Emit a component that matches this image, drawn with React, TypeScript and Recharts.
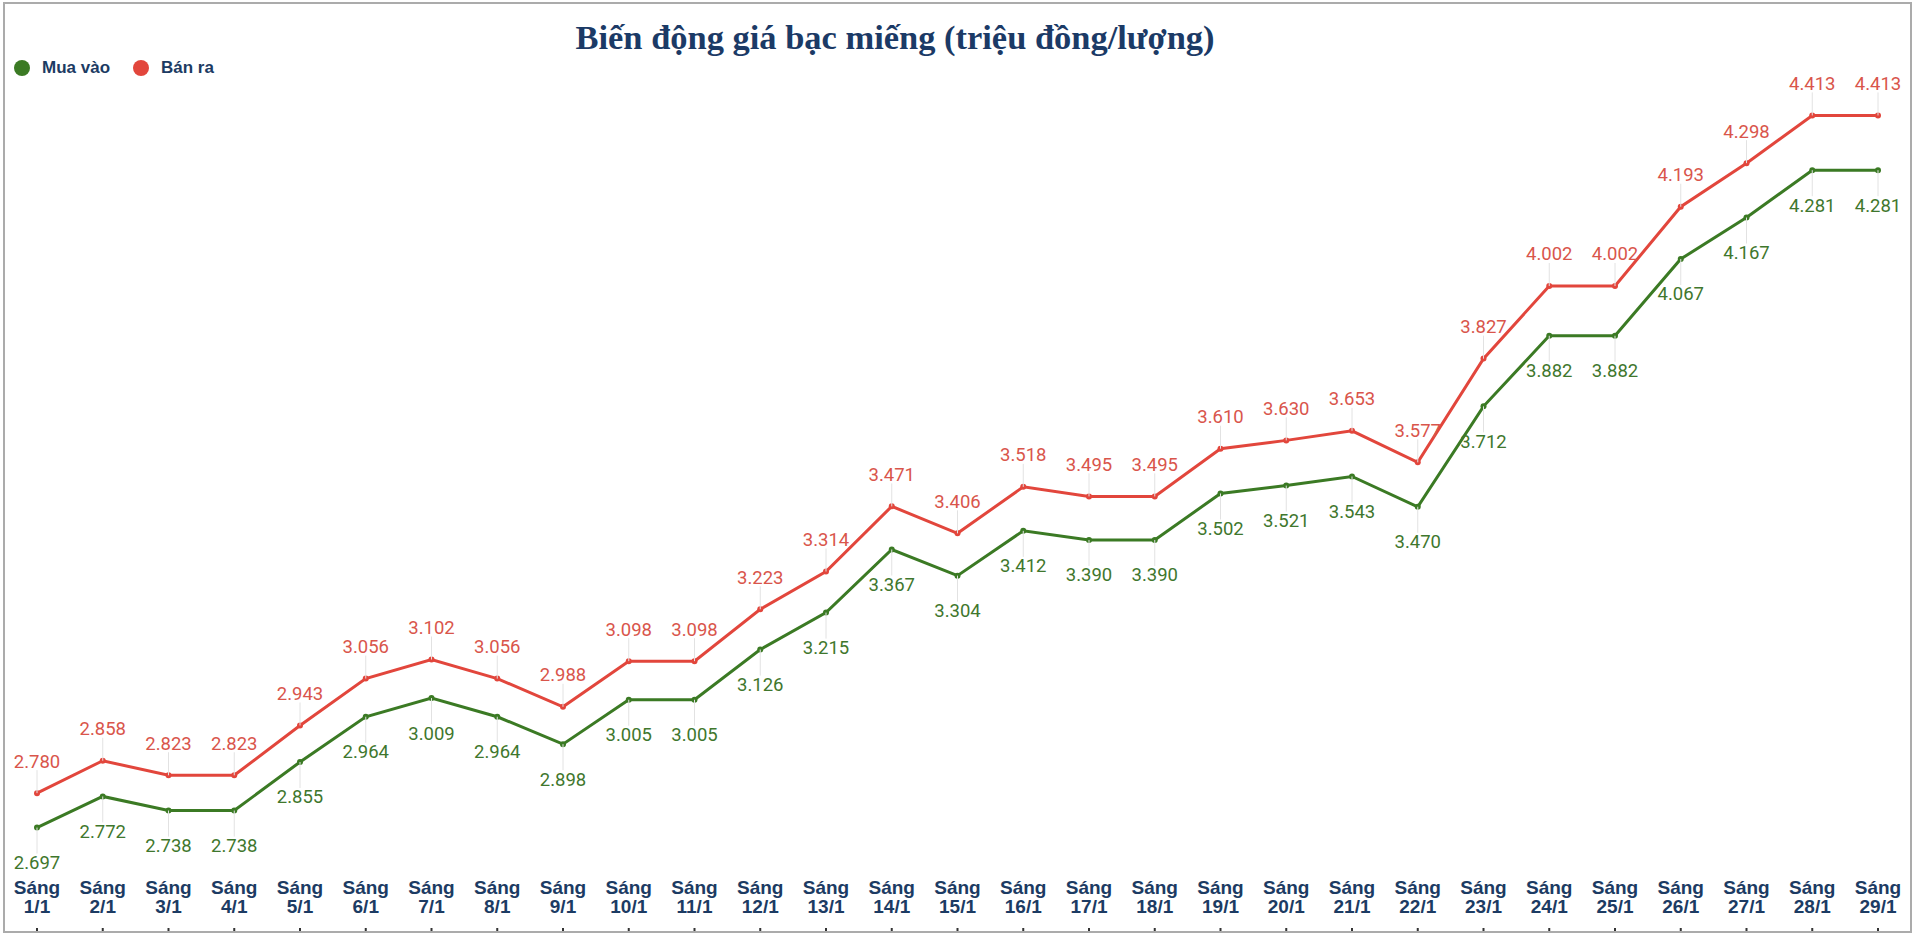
import { LineChart, Line, XAxis, YAxis, Legend, LabelList } from 'recharts'

const days = [
  '1/1', '2/1', '3/1', '4/1', '5/1', '6/1', '7/1', '8/1', '9/1', '10/1',
  '11/1', '12/1', '13/1', '14/1', '15/1', '16/1', '17/1', '18/1', '19/1', '20/1',
  '21/1', '22/1', '23/1', '24/1', '25/1', '26/1', '27/1', '28/1', '29/1',
]

const muaVao = [
  2.697, 2.772, 2.738, 2.738, 2.855, 2.964, 3.009, 2.964, 2.898, 3.005,
  3.005, 3.126, 3.215, 3.367, 3.304, 3.412, 3.39, 3.39, 3.502, 3.521,
  3.543, 3.47, 3.712, 3.882, 3.882, 4.067, 4.167, 4.281, 4.281,
]

const banRa = [
  2.78, 2.858, 2.823, 2.823, 2.943, 3.056, 3.102, 3.056, 2.988, 3.098,
  3.098, 3.223, 3.314, 3.471, 3.406, 3.518, 3.495, 3.495, 3.61, 3.63,
  3.653, 3.577, 3.827, 4.002, 4.002, 4.193, 4.298, 4.413, 4.413,
]

const data = days.map((d, i) => ({ day: d, mua: muaVao[i], ban: banRa[i] }))

const GREEN = '#3b7a24'
const RED = '#e2463c'
const NAVY = '#1c3b63'

const makeLabel = (color: string, above: boolean) => (props: any) => {
  const { x, y, value } = props
  const cy = above ? y - 32 : y + 35
  return (
    <g>
      <line x1={x} x2={x} y1={y} y2={above ? cy + 9 : cy - 9} stroke="#e2e2e2" strokeWidth={1} />
      <text
        x={x}
        y={cy}
        dy="0.35em"
        textAnchor="middle"
        fill={color}
        fontFamily="Roboto"
        fontSize={18.5}
      >
        {Number(value).toFixed(3)}
      </text>
    </g>
  )
}

const DayTick = (props: any) => {
  const { x, y, payload } = props
  return (
    <g fontFamily="'Liberation Sans', Arial" fontWeight="bold" fontSize={19} fill={NAVY}>
      <text x={x} y={y - 38} textAnchor="middle">Sáng</text>
      <text x={x} y={y - 19} textAnchor="middle">{payload.value}</text>
    </g>
  )
}

const renderLegend = () => (
  <div style={{ display: 'flex', alignItems: 'center', fontFamily: "'Liberation Sans', Arial", fontWeight: 'bold', fontSize: 17, color: NAVY }}>
    {[
      { name: 'Mua vào', color: GREEN },
      { name: 'Bán ra', color: RED },
    ].map((it) => (
      <div key={it.name} style={{ display: 'flex', alignItems: 'center', marginRight: 23 }}>
        <span style={{ width: 16, height: 16, borderRadius: 8, background: it.color, display: 'inline-block', marginRight: 12 }} />
        <span style={{ lineHeight: '20px' }}>{it.name}</span>
      </div>
    ))}
  </div>
)

export default function App() {
  return (
    <div style={{ position: 'absolute', left: 0, top: 0, width: 1917, height: 936, background: '#fff' }}>
      <LineChart width={1917} height={936} data={data} margin={{ top: 15, right: 39, bottom: 0, left: 37 }}>
        <XAxis
          dataKey="day"
          height={8}
          axisLine={false}
          tickLine={{ stroke: '#333', strokeWidth: 2 }}
          tickSize={4}
          tickMargin={0}
          interval={0}
          tick={<DayTick />}
        />
        <YAxis hide domain={[2.455, 4.655]} />
        <Legend
          layout="horizontal"
          verticalAlign="middle"
          align="center"
          content={renderLegend}
          wrapperStyle={{ top: 58, left: 14, width: 'auto' }}
        />
        <Line
          dataKey="mua"
          name="Mua vào"
          stroke={GREEN}
          strokeWidth={3}
          dot={{ r: 3, fill: GREEN, stroke: GREEN, strokeWidth: 0 }}
          isAnimationActive={false}
        >
          <LabelList dataKey="mua" content={makeLabel('#3f772d', false)} />
        </Line>
        <Line
          dataKey="ban"
          name="Bán ra"
          stroke={RED}
          strokeWidth={3}
          dot={{ r: 3, fill: RED, stroke: RED, strokeWidth: 0 }}
          isAnimationActive={false}
        >
          <LabelList dataKey="ban" content={makeLabel('#d9554b', true)} />
        </Line>
      </LineChart>
      <svg width={1917} height={936} style={{ position: 'absolute', left: 0, top: 0, pointerEvents: 'none' }}>
        <text
          x={895}
          y={49}
          textAnchor="middle"
          fontFamily="'Liberation Serif', 'Times New Roman'"
          fontWeight="bold"
          fontSize={33}
          fill="#1b3a66"
          textLength={639}
          lengthAdjust="spacingAndGlyphs"
        >
          Biến động giá bạc miếng (triệu đồng/lượng)
        </text>
        <rect x={4} y={3} width={1907} height={929} fill="none" stroke="#ababab" strokeWidth={2} />
      </svg>
    </div>
  )
}
